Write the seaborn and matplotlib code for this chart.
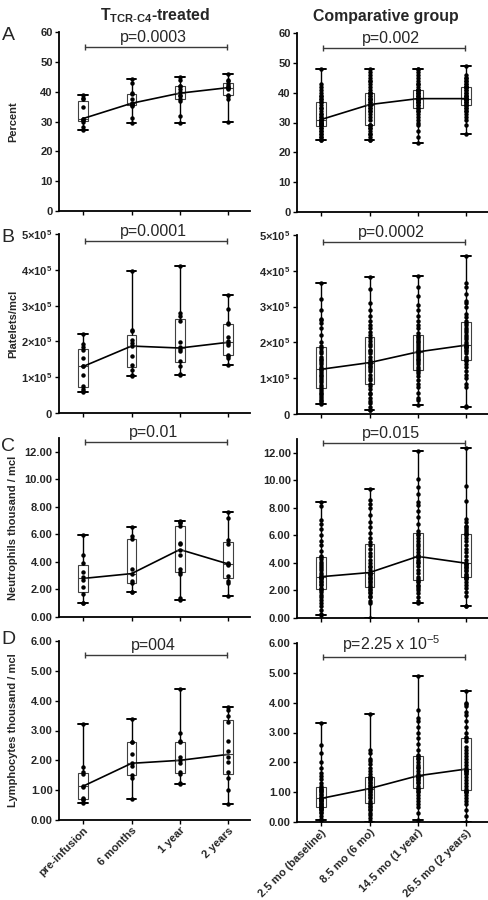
import numpy as np
import pandas as pd
import matplotlib.pyplot as plt
import seaborn as sns

# time points
times_trt = ['pre-infusion', '6 months', '1 year', '2 years']
times_cmp = ['2.5 mo (baseline)', '8.5 mo (6 mo)', '14.5 mo (1 year)', '26.5 mo (2 years)']

# A - percent (one list per time point)
pct_trt = [[27, 28, 30, 30.5, 31, 31, 35, 37.5, 38, 39],
           [29.5, 31.2, 35.3, 35.6, 35.8, 36, 36.2, 37.5, 39.3, 39.6, 43, 44.3],
           [29.5, 32, 37, 37.5, 38.5, 39, 40, 41, 42, 42, 44, 45],
           [30, 37.5, 38.5, 39, 41, 41.2, 41.5, 42, 42.5, 43.5, 44, 46]]
pct_cmp = [[24, 24, 25, 25, 26, 26, 27, 27, 28, 28, 29, 29, 29, 30, 30, 30, 30, 31, 31, 31,
            31, 32, 32, 33, 33, 34, 35, 35, 36, 37, 37, 38, 38, 39, 39, 40, 41, 42, 43, 48],
           [24, 24, 25, 26, 26, 27, 28, 28, 29, 29, 29, 31, 32, 33, 34, 34, 35, 35, 36, 36,
            36, 37, 37, 38, 38, 38, 39, 39, 40, 40, 40, 41, 42, 43, 44, 44, 45, 46, 47, 48],
           [23, 25, 27, 29, 30, 31, 32, 33, 34, 34, 35, 35, 36, 36, 37, 37, 37, 38, 38, 38,
            38, 39, 39, 39, 40, 40, 40, 41, 41, 41, 41, 42, 43, 43, 44, 45, 46, 47, 48, 48],
           [26, 29, 31, 32, 33, 34, 34, 35, 35, 36, 36, 36, 37, 37, 37, 38, 38, 38, 38, 38,
            38, 39, 39, 39, 40, 40, 41, 41, 42, 42, 42, 42, 43, 43, 44, 44, 45, 45, 46, 49]]

# B - platelets, in units of 1e5 / mcl
plt_trt = [[0.6, 0.62, 0.68, 0.75, 1.05, 1.3, 1.3, 1.55, 1.75, 1.85, 1.92, 2.2],
           [1.02, 1.05, 1.2, 1.35, 1.6, 1.87, 1.95, 2.05, 2.3, 2.32, 3.98],
           [1.05, 1.08, 1.32, 1.45, 1.72, 1.78, 1.85, 1.97, 2.58, 2.72, 2.78, 4.12],
           [1.35, 1.55, 1.58, 1.62, 1.9, 1.95, 2.0, 2.12, 2.48, 2.52, 2.9, 3.3]]
plt_cmp = [[0.28, 0.3, 0.35, 0.4, 0.45, 0.5, 0.55, 0.6, 0.65, 0.7, 0.75, 0.8, 0.9, 0.95, 1.0,
            1.05, 1.1, 1.15, 1.2, 1.25, 1.25, 1.3, 1.4, 1.45, 1.5, 1.55, 1.6, 1.7, 1.75, 1.85,
            1.9, 2.0, 2.2, 2.4, 2.55, 2.62, 2.65, 2.9, 3.22, 3.65],
           [0.1, 0.12, 0.2, 0.3, 0.35, 0.45, 0.55, 0.6, 0.7, 0.78, 0.85, 0.95, 1.0, 1.1, 1.2,
            1.25, 1.3, 1.35, 1.4, 1.42, 1.45, 1.5, 1.6, 1.7, 1.75, 1.8, 1.9, 1.95, 2.05, 2.12,
            2.2, 2.3, 2.4, 2.5, 2.6, 2.75, 2.9, 3.1, 3.5, 3.82],
           [0.25, 0.4, 0.45, 0.6, 0.75, 0.85, 0.95, 1.05, 1.15, 1.2, 1.25, 1.3, 1.4, 1.45, 1.5,
            1.55, 1.6, 1.65, 1.7, 1.72, 1.75, 1.8, 1.85, 1.9, 1.95, 2.0, 2.05, 2.1, 2.15, 2.18,
            2.25, 2.4, 2.5, 2.6, 2.75, 2.9, 3.05, 3.3, 3.55, 3.85],
           [0.2, 0.22, 0.75, 0.85, 1.0, 1.1, 1.2, 1.3, 1.4, 1.48, 1.5, 1.55, 1.6, 1.7, 1.75,
            1.8, 1.85, 1.88, 1.9, 1.9, 1.95, 2.0, 2.1, 2.15, 2.2, 2.3, 2.35, 2.4, 2.5, 2.55,
            2.6, 2.7, 2.8, 3.0, 3.1, 3.15, 3.35, 3.55, 3.65, 4.42]]

# C - neutrophils, thousand / mcl
neu_trt = [[1.0, 1.05, 1.7, 2.2, 2.7, 2.9, 3.3, 3.9, 4.5, 5.95],
           [1.8, 1.85, 2.45, 2.65, 3.15, 3.45, 5.65, 5.85, 6.55],
           [1.2, 1.4, 3.1, 3.25, 3.5, 4.5, 4.9, 5.3, 5.4, 6.6, 6.8, 6.9, 7.0],
           [1.5, 2.5, 2.65, 2.95, 3.8, 3.85, 3.95, 5.3, 5.6, 7.2, 7.6]]
neu_cmp = [[0.25, 0.3, 0.6, 0.9, 1.1, 1.3, 1.5, 1.7, 1.9, 2.05, 2.1, 2.2, 2.4, 2.5, 2.6,
            2.7, 2.8, 2.9, 2.95, 3.0, 3.0, 3.1, 3.3, 3.5, 3.6, 3.8, 3.9, 4.1, 4.3, 4.45,
            4.5, 4.9, 5.3, 5.6, 6.0, 6.5, 6.8, 7.1, 8.1, 8.45],
           [0.0, 1.1, 1.2, 1.5, 1.6, 1.8, 1.9, 2.0, 2.1, 2.25, 2.3, 2.5, 2.6, 2.7, 2.8,
            2.9, 3.0, 3.1, 3.2, 3.3, 3.3, 3.5, 3.7, 3.8, 4.0, 4.2, 4.5, 4.7, 5.0, 5.3,
            5.5, 5.8, 6.2, 6.6, 7.0, 7.5, 8.0, 8.3, 8.6, 9.35],
           [1.1, 1.2, 1.5, 1.8, 2.0, 2.2, 2.3, 2.4, 2.6, 2.7, 2.8, 3.0, 3.3, 3.5, 3.8,
            4.0, 4.1, 4.2, 4.4, 4.45, 4.5, 4.6, 4.8, 5.0, 5.2, 5.4, 5.6, 5.8, 6.0, 6.1,
            6.3, 6.8, 7.3, 7.8, 8.2, 8.4, 9.0, 9.5, 10.1, 12.15],
           [0.85, 0.9, 1.6, 1.9, 2.2, 2.4, 2.6, 2.8, 2.9, 2.95, 3.0, 3.1, 3.2, 3.4, 3.5,
            3.6, 3.7, 3.8, 3.9, 3.95, 4.0, 4.2, 4.5, 4.8, 5.0, 5.3, 5.6, 5.8, 6.0, 6.1,
            6.2, 6.3, 6.5, 6.6, 6.7, 7.0, 7.2, 8.5, 9.6, 12.35]]

# D - lymphocytes, thousand / mcl
lym_trt = [[0.58, 0.68, 0.7, 0.75, 1.12, 1.15, 1.55, 1.6, 1.78, 3.23],
           [0.7, 1.4, 1.5, 1.8, 1.9, 2.2, 2.6, 2.6, 3.37],
           [1.2, 1.25, 1.55, 1.6, 1.9, 2.0, 2.1, 2.6, 2.65, 2.9, 4.4],
           [0.52, 1.0, 1.4, 1.6, 1.95, 2.1, 2.3, 2.65, 3.3, 3.5, 3.7, 3.8]]
lym_cmp = [[0.08, 0.1, 0.2, 0.3, 0.35, 0.4, 0.42, 0.45, 0.48, 0.5, 0.52, 0.55, 0.6, 0.62,
            0.65, 0.7, 0.72, 0.75, 0.77, 0.78, 0.8, 0.82, 0.85, 0.9, 0.95, 1.0, 1.05, 1.08,
            1.1, 1.15, 1.2, 1.3, 1.45, 1.55, 1.65, 1.8, 2.0, 2.3, 2.58, 3.32],
           [0.0, 0.05, 0.15, 0.25, 0.3, 0.4, 0.45, 0.5, 0.55, 0.6, 0.65, 0.7, 0.8, 0.85,
            0.9, 0.95, 1.0, 1.05, 1.1, 1.12, 1.15, 1.2, 1.25, 1.3, 1.35, 1.4, 1.45, 1.48,
            1.5, 1.52, 1.6, 1.7, 1.8, 1.95, 2.05, 2.1, 2.3, 2.4, 3.62],
           [0.08, 0.3, 0.5, 0.6, 0.7, 0.8, 0.9, 1.0, 1.05, 1.1, 1.15, 1.2, 1.3, 1.35, 1.4,
            1.45, 1.5, 1.52, 1.53, 1.55, 1.6, 1.7, 1.8, 1.85, 1.9, 2.0, 2.1, 2.15, 2.2, 2.25,
            2.4, 2.6, 2.8, 3.0, 3.2, 3.4, 3.5, 3.75, 4.88],
           [0.0, 0.2, 0.4, 0.6, 0.7, 0.8, 0.9, 1.0, 1.02, 1.05, 1.1, 1.2, 1.3, 1.4, 1.5,
            1.6, 1.65, 1.7, 1.72, 1.75, 1.8, 1.9, 2.0, 2.1, 2.2, 2.3, 2.4, 2.5, 2.7, 2.8,
            2.85, 3.0, 3.2, 3.4, 3.6, 3.7, 3.9, 3.95, 4.0, 4.4]]

ylabels = ['Percent', 'Platelets/mcl', 'Neutrophils thousand / mcl', 'Lymphocytes thousand / mcl']
letters = ['A', 'B', 'C', 'D']
p_trt = ['p=0.0003', 'p=0.0001', 'p=0.01', 'p=004']
p_cmp = ['p=0.002', 'p=0.0002', 'p=0.015', r'p=2.25 x 10$^{-5}$']

sns.set_style('ticks')
plt.rcParams['font.family'] = ['Liberation Sans', 'DejaVu Sans']
plt.rcParams['mathtext.fontset'] = 'custom'
plt.rcParams['mathtext.rm'] = 'Liberation Sans'
plt.rcParams['mathtext.bf'] = 'Liberation Sans:bold'
plt.rcParams['mathtext.it'] = 'Liberation Sans:italic'

W, H = 489, 900
fig = plt.figure(figsize=(W / 100, H / 100), dpi=100)


def rect(x0, top, w=191, h=179):
    return [x0 / W, 1 - (top + h) / H, w / W, h / H]


def long_df(groups, times):
    t, v = [], []
    for name, vals in zip(times, groups):
        t += [name] * len(vals)
        v += list(vals)
    return pd.DataFrame({'time': t, 'value': v})


def panel(ax, groups, times, row, ptext, bottom):
    df = long_df(groups, times)
    sns.boxplot(data=df, x='time', y='value', order=times, whis=(0, 100), width=0.2,
                color='white', linecolor='#404040', linewidth=0.8, fliersize=0, ax=ax,
                whiskerprops={'color': 'black', 'linewidth': 1.0},
                capprops={'color': 'black', 'linewidth': 1.4},
                capwidths=0.2)
    sns.stripplot(data=df, x='time', y='value', order=times, jitter=False, color='black',
                  size=3.2, ax=ax, zorder=3)
    sns.pointplot(data=df, x='time', y='value', order=times, estimator='median',
                  errorbar=None, color='black', markers='', linewidth=1.2, ax=ax)

    ax.set_xlim(-0.5, 3.45)
    tops = [60, 5, 13, 6]
    ax.set_ylim(0, tops[row])
    tkw = dict(fontsize=8, fontweight='bold')
    if row == 0:
        ax.set_yticks(range(0, 61, 10))
        ax.set_yticklabels([str(v) for v in range(0, 61, 10)], **tkw)
    elif row == 1:
        ax.set_yticks(range(6))
        ax.set_yticklabels([r'$\mathbf{0}$'] + [r'$\mathbf{%d{\times}10^{5}}$' % v for v in range(1, 6)], **tkw)
    elif row == 2:
        ax.set_yticks(range(0, 13, 2))
        ax.set_yticklabels(['%.2f' % v for v in range(0, 13, 2)], **tkw)
    else:
        ax.set_yticks(range(7))
        ax.set_yticklabels(['%.2f' % v for v in range(7)], **tkw)

    ax.set_xlabel('')
    ax.set_ylabel('')
    ax.set_xticks(range(4))
    if bottom:
        ax.set_xticklabels(times, rotation=45, ha='right', rotation_mode='anchor',
                           fontsize=8, fontweight='bold')
    else:
        ax.set_xticklabels([])

    sns.despine(ax=ax)
    for s in ['left', 'bottom']:
        ax.spines[s].set_linewidth(1.3)
        ax.spines[s].set_color('black')
    ax.tick_params(length=3, width=1, color='black', pad=1.5)
    ax.tick_params(axis='x', pad=1)

    # significance bracket
    ybr = [55, 4.8, 12.7, 5.53][row]
    ax.plot([0.03, 2.97], [ybr, ybr], color='#3a3a3a', lw=1, marker='|', ms=5, mew=1,
            clip_on=False, zorder=4)
    ax.annotate(ptext, xy=(1.45, ybr), xytext=(0, 1.5), textcoords='offset points',
                ha='center', va='bottom', fontsize=11.5, annotation_clip=False)


trt_data = [pct_trt, plt_trt, neu_trt, lym_trt]
cmp_data = [pct_cmp, plt_cmp, neu_cmp, lym_cmp]
tops_left = [32, 234, 438, 641]
tops_right = [33, 235, 439, 643]

for i in range(4):
    axl = fig.add_axes(rect(59, tops_left[i]))
    panel(axl, trt_data[i], times_trt, i, p_trt[i], i == 3)
    axl.set_ylabel(ylabels[i], fontsize=8, fontweight='bold')
    axl.yaxis.set_label_coords(-0.215, 0.5)

    axr = fig.add_axes(rect(297, tops_right[i]))
    panel(axr, cmp_data[i], times_cmp, i, p_cmp[i], i == 3)

    fig.text(0.003, 1 - [36, 238, 447, 640][i] / H, letters[i], fontsize=14,
             ha='left', va='center')

fig.text(155 / W, 1 - 16 / H, r'T$_{\mathbf{TCR}\text{-}\mathbf{C4}}$-treated',
         ha='center', va='center', fontsize=11.4, fontweight='bold')
fig.text(386 / W, 1 - 16 / H, 'Comparative group', ha='center', va='center',
         fontsize=11.4, fontweight='bold')

fig.savefig('out.png', dpi=100)
